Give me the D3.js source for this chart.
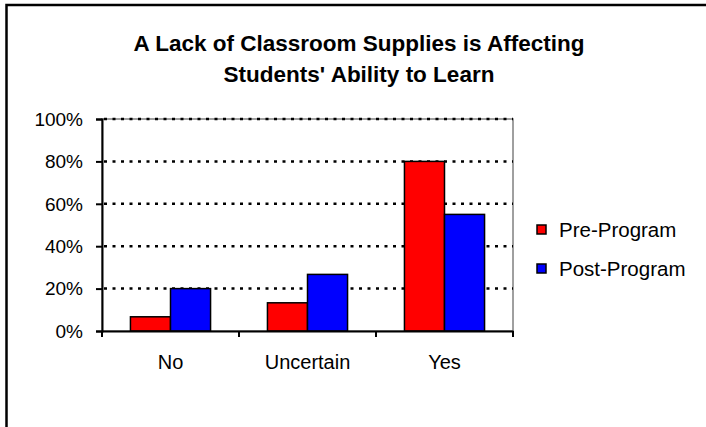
<!DOCTYPE html>
<html>
<head>
<meta charset="utf-8">
<script src="https://cdn.jsdelivr.net/npm/d3@7"></script>
<style>
  body { margin: 0; background: #fff; }
  text { font-family: "Liberation Sans", Arial, sans-serif; fill: #000; }
</style>
</head>
<body>
<div id="chart"></div>
<script>
var categories = ["No", "Uncertain", "Yes"]
var series = ["Pre-Program", "Post-Program"]
var preProgram = [6.7, 13.3, 80]
var postProgram = [20, 26.7, 55]
var yTicks = [0, 20, 40, 60, 80, 100]
var seriesColors = ["#ff0000", "#0000ff"]
var titleLines = ["A Lack of Classroom Supplies is Affecting", "Students' Ability to Learn"]

var width = 706, height = 427
var plot = { left: 102, top: 119, right: 513, bottom: 331 }

var svg = d3.select("#chart").append("svg")
    .attr("width", width)
    .attr("height", height)

// outer chart frame (runs off the right / bottom of the picture)
svg.append("rect")
    .attr("x", 6.5).attr("y", 5)
    .attr("width", 800).attr("height", 500)
    .attr("fill", "none")
    .attr("stroke", "#000")
    .attr("stroke-width", 2.5)

svg.selectAll(".title")
    .data(titleLines)
    .enter().append("text")
    .attr("class", "title")
    .attr("x", 359)
    .attr("y", function(d, i) { return 51 + i * 31 })
    .attr("text-anchor", "middle")
    .style("font-size", "22.5px")
    .style("font-weight", "bold")
    .text(function(d) { return d })

var x0 = d3.scaleBand()
    .domain(categories)
    .range([plot.left, plot.right])

var x1 = d3.scaleBand()
    .domain(series)
    .range([0, x0.bandwidth()])
    .paddingOuter(0.71)

var y = d3.scaleLinear()
    .domain([0, 100])
    .range([plot.bottom, plot.top])

// plot area border, grey
svg.append("rect")
    .attr("x", plot.left).attr("y", plot.top)
    .attr("width", plot.right - plot.left)
    .attr("height", plot.bottom - plot.top)
    .attr("fill", "none")
    .attr("stroke", "#808080")
    .attr("stroke-width", 1.5)

// dotted gridlines
svg.selectAll(".grid")
    .data(yTicks.filter(function(d) { return d > 0 }))
    .enter().append("line")
    .attr("class", "grid")
    .attr("x1", plot.left + 2).attr("x2", plot.right)
    .attr("y1", function(d) { return y(d) })
    .attr("y2", function(d) { return y(d) })
    .attr("stroke", "#000")
    .attr("stroke-width", 2.5)
    .attr("stroke-dasharray", "3,5.5")

var rows = categories.map(function(c, i) {
    return { cat: c, values: [preProgram[i], postProgram[i]] }
})

var groups = svg.selectAll(".group")
    .data(rows)
    .enter().append("g")
    .attr("class", "group")
    .attr("transform", function(d) { return "translate(" + x0(d.cat) + ",0)" })

groups.selectAll("rect")
    .data(function(d) { return d.values.map(function(v, j) { return { s: series[j], v: v, j: j } }) })
    .enter().append("rect")
    .attr("x", function(d) { return x1(d.s) })
    .attr("y", function(d) { return y(d.v) })
    .attr("width", x1.bandwidth())
    .attr("height", function(d) { return y(0) - y(d.v) })
    .attr("fill", function(d) { return seriesColors[d.j] })
    .attr("stroke", "#000")
    .attr("stroke-width", 1.5)

// y axis
var yAxis = svg.append("g")
    .attr("transform", "translate(" + plot.left + ",0)")
    .call(d3.axisLeft(y).tickValues(yTicks).tickSize(6).tickPadding(13)
        .tickFormat(function(d) { return d + "%" }))
yAxis.select(".domain").attr("stroke", "#000").attr("stroke-width", 2)
yAxis.selectAll(".tick line").attr("stroke", "#000").attr("stroke-width", 2)
yAxis.selectAll(".tick text")
    .style("font-size", "19px")
    .style("font-family", "'Liberation Sans', Arial, sans-serif")
    .attr("dy", "0.33em")

// x axis, ticks at the band edges
var xAxis = svg.append("g")
    .attr("transform", "translate(0," + plot.bottom + ")")
    .call(d3.axisBottom(x0).tickSize(0).tickPadding(38))
xAxis.select(".domain").attr("stroke", "#000").attr("stroke-width", 2)
xAxis.selectAll(".tick text")
    .style("font-size", "20px")
    .style("font-family", "'Liberation Sans', Arial, sans-serif")
    .attr("dy", "0")
xAxis.selectAll(".edge")
    .data(categories.map(function(c) { return x0(c) }).concat([plot.right]))
    .enter().append("line")
    .attr("class", "edge")
    .attr("x1", function(d) { return d }).attr("x2", function(d) { return d })
    .attr("y1", 0).attr("y2", 6)
    .attr("stroke", "#000")
    .attr("stroke-width", 2)

// legend
var legend = svg.selectAll(".legend")
    .data(series)
    .enter().append("g")
    .attr("class", "legend")
    .attr("transform", function(d, i) { return "translate(537," + (225 + i * 39) + ")" })

legend.append("rect")
    .attr("width", 9).attr("height", 9)
    .attr("fill", function(d, i) { return seriesColors[i] })
    .attr("stroke", "#000")
    .attr("stroke-width", 1.5)

legend.append("text")
    .attr("x", 22).attr("y", 11.5)
    .style("font-size", "20.5px")
    .text(function(d) { return d })
</script>
</body>
</html>
